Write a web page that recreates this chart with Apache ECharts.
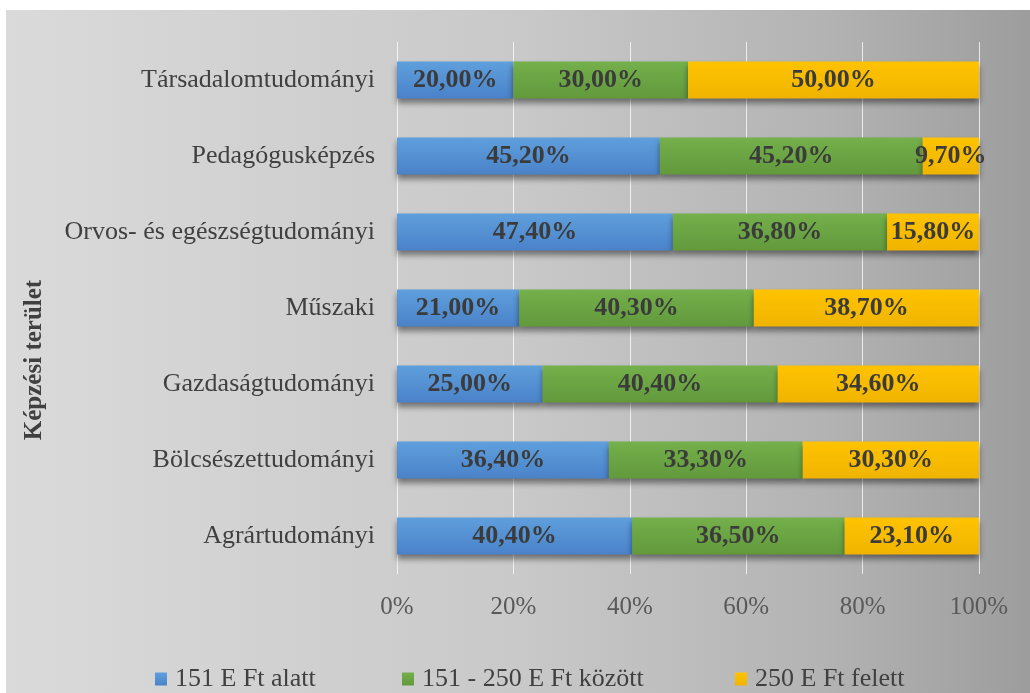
<!DOCTYPE html>
<html>
<head>
<meta charset="utf-8">
<script src="https://cdn.jsdelivr.net/npm/echarts@6/dist/echarts.min.js"></script>
<style>
  html, body { margin: 0; padding: 0; background: #fff; }
  #chart { position: absolute; left: 6px; top: 10px; width: 1024px; height: 683px; }
</style>
</head>
<body>
<div id="chart"></div>
<script>
// képzési területek (alulról felfelé)
const categories = [
  'Agrártudományi',
  'Bölcsészettudományi',
  'Gazdaságtudományi',
  'Műszaki',
  'Orvos- és egészségtudományi',
  'Pedagógusképzés',
  'Társadalomtudományi'
];
const seriesNames = ['151 E Ft alatt', '151 - 250 E Ft között', '250 E Ft felett'];
const under151 = [40.4, 36.4, 25.0, 21.0, 47.4, 45.2, 20.0];
const between151and250 = [36.5, 33.3, 40.4, 40.3, 36.8, 45.2, 30.0];
const over250 = [23.1, 30.3, 34.6, 38.7, 15.8, 9.7, 50.0];
const xTicks = [0, 20, 40, 60, 80, 100];

const FONT = "'Liberation Serif', 'Times New Roman', serif";
const TEXT = '#404040';

// 100%-os halmozás: a sávhossz a sor összegéhez arányos, a címke a nyers érték
const raw = [under151, between151and250, over250];
const totals = categories.map((c, i) => raw.reduce((s, arr) => s + arr[i], 0));

const colors = [
  ['#5f9fdc', '#4a82c9'],
  ['#74b04b', '#62993c'],
  ['#ffc300', '#f0b400']
];

// jelmagyarázat elemek helye (Excel oszlopszerűen osztja el)
const legendLeft = [144, 391, 724];

const myChart = echarts.init(document.getElementById('chart'));

const option = {
  backgroundColor: {
    type: 'linear', x: 0, y: 0, x2: 1, y2: 0,
    colorStops: [
      { offset: 0, color: '#dadada' },
      { offset: 0.5, color: '#c9c9c9' },
      { offset: 0.8, color: '#b3b3b3' },
      { offset: 1, color: '#9d9d9d' }
    ]
  },
  animation: false,
  grid: { left: 391, right: 51, top: 32, bottom: 119 },
  legend: seriesNames.map((name, k) => ({
    left: legendLeft[k],
    top: 651,
    itemWidth: 12,
    itemHeight: 13,
    icon: 'rect',
    textStyle: { fontFamily: FONT, fontSize: 26, color: TEXT, padding: [0, 0, 0, 3] },
    data: [name]
  })),
  xAxis: {
    type: 'value',
    min: 0,
    max: 100,
    interval: 20,
    axisLine: { show: false },
    axisTick: { show: false },
    axisLabel: {
      margin: 21,
      fontFamily: FONT,
      fontSize: 25,
      color: '#595959',
      formatter: (v) => (xTicks.includes(v) ? v + '%' : '')
    },
    splitLine: { show: true, lineStyle: { color: 'rgba(255,255,255,0.75)', width: 1 } }
  },
  yAxis: {
    type: 'category',
    data: categories,
    name: 'Képzési terület',
    nameLocation: 'middle',
    nameGap: 350,
    nameRotate: 90,
    nameTextStyle: {
      fontFamily: FONT, fontSize: 25, fontWeight: 'bold', color: TEXT,
      padding: [0, 104, 0, 0]
    },
    axisLine: { show: false },
    axisTick: { show: false },
    axisLabel: { margin: 22, fontFamily: FONT, fontSize: 26, color: TEXT }
  },
  series: raw.map((arr, k) => ({
    name: seriesNames[k],
    type: 'bar',
    stack: 'total',
    barWidth: 37,
    itemStyle: {
      color: new echarts.graphic.LinearGradient(0, 0, 0, 1, [
        { offset: 0, color: colors[k][0] },
        { offset: 1, color: colors[k][1] }
      ]),
      shadowColor: 'rgba(0,0,0,0.45)',
      shadowBlur: 6,
      shadowOffsetY: 4
    },
    label: {
      show: true,
      position: 'inside',
      fontFamily: FONT,
      fontSize: 26,
      fontWeight: 'bold',
      color: '#3b3b3b',
      textBorderWidth: 0,
      formatter: (p) => raw[k][p.dataIndex].toFixed(2).replace('.', ',') + '%'
    },
    data: arr.map((v, i) => (v / totals[i]) * 100)
  }))
};

myChart.setOption(option);
window.addEventListener('resize', () => {
  myChart.resize();
});
</script>
</body>
</html>
